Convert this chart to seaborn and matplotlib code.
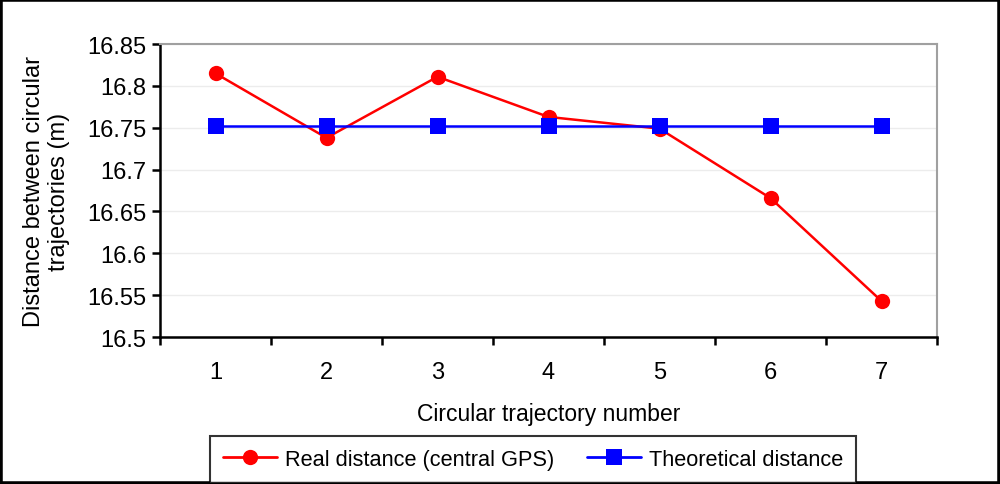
import numpy as np
import pandas as pd
import matplotlib
matplotlib.use('Agg')
import matplotlib.pyplot as plt
import seaborn as sb

# chart data
trajectory = [1, 2, 3, 4, 5, 6, 7]
real_dist = [16.815, 16.738, 16.811, 16.763, 16.749, 16.666, 16.543]
theo_dist = [16.752, 16.752, 16.752, 16.752, 16.752, 16.752, 16.752]
y_ticks = [16.5, 16.55, 16.6, 16.65, 16.7, 16.75, 16.8, 16.85]
y_labels = ['16.5', '16.55', '16.6', '16.65', '16.7', '16.75', '16.8', '16.85']

df = pd.DataFrame({'Trajectory': trajectory + trajectory,
                   'Distance': real_dist + theo_dist,
                   'Series': ['Real distance (central GPS)'] * 7 + ['Theoretical distance'] * 7})

sb.set_style('white')
plt.rcParams['font.family'] = ['Liberation Sans', 'DejaVu Sans']
plt.rcParams['text.color'] = 'black'
plt.rcParams['axes.labelcolor'] = 'black'
plt.rcParams['xtick.color'] = 'black'
plt.rcParams['ytick.color'] = 'black'

fs = 17

fig = plt.figure(figsize=(10, 4.85), dpi=100)
ax = fig.add_axes([0.16, 0.303, 0.777, 0.604])

sb.lineplot(data=df, x='Trajectory', y='Distance', hue='Series', style='Series',
            palette={'Real distance (central GPS)': '#ff0000', 'Theoretical distance': '#0000ff'},
            markers={'Real distance (central GPS)': 'o', 'Theoretical distance': 's'},
            dashes=False, markersize=11, markeredgewidth=0, linewidth=1.8, ax=ax, legend=True)

ax.set_xlim(0.5, 7.5)
ax.set_ylim(16.5, 16.85)
ax.set_yticks(y_ticks)
ax.set_yticklabels(y_labels)
ax.set_xticks(trajectory)
ax.set_xticklabels([str(t) for t in trajectory])
ax.set_xticks(np.arange(0.5, 8.0, 1.0), minor=True)
ax.tick_params(axis='x', which='major', bottom=True, length=0, pad=17, labelsize=fs)
ax.tick_params(axis='x', which='minor', bottom=True, length=6, width=1.8, color='black', direction='out')
ax.tick_params(axis='y', left=True, length=6, width=1.8, color='black', direction='out', labelsize=fs, pad=4)
ax.yaxis.grid(True, color='#ececec', linewidth=1)
ax.xaxis.grid(False)

for side in ['left', 'bottom']:
    ax.spines[side].set_color('black')
    ax.spines[side].set_linewidth(1.8)
for side in ['top', 'right']:
    ax.spines[side].set_color('#a0a0a0')
    ax.spines[side].set_linewidth(1.5)

ax.set_xlabel('Circular trajectory number', fontsize=16.5, labelpad=14)
ax.set_ylabel('Distance between circular\ntrajectories (m)', fontsize=fs, labelpad=12)

handles, labels = ax.get_legend_handles_labels()
ax.get_legend().remove()
for h in handles:
    h.set_linewidth(2)
leg = fig.legend(handles, labels, loc='lower center', bbox_to_anchor=(0.533, -0.02), ncol=2,
                 fontsize=15.7, frameon=True, fancybox=False, edgecolor='black',
                 handlelength=2.5, columnspacing=1.5, borderpad=0.6, handletextpad=0.35)
leg.get_frame().set_linewidth(1.5)

fig.add_artist(plt.Rectangle((0, 0), 1, 1, transform=fig.transFigure, fill=False,
                             edgecolor='black', linewidth=4))

fig.savefig('out.png', dpi=100)
print('Finished!')
